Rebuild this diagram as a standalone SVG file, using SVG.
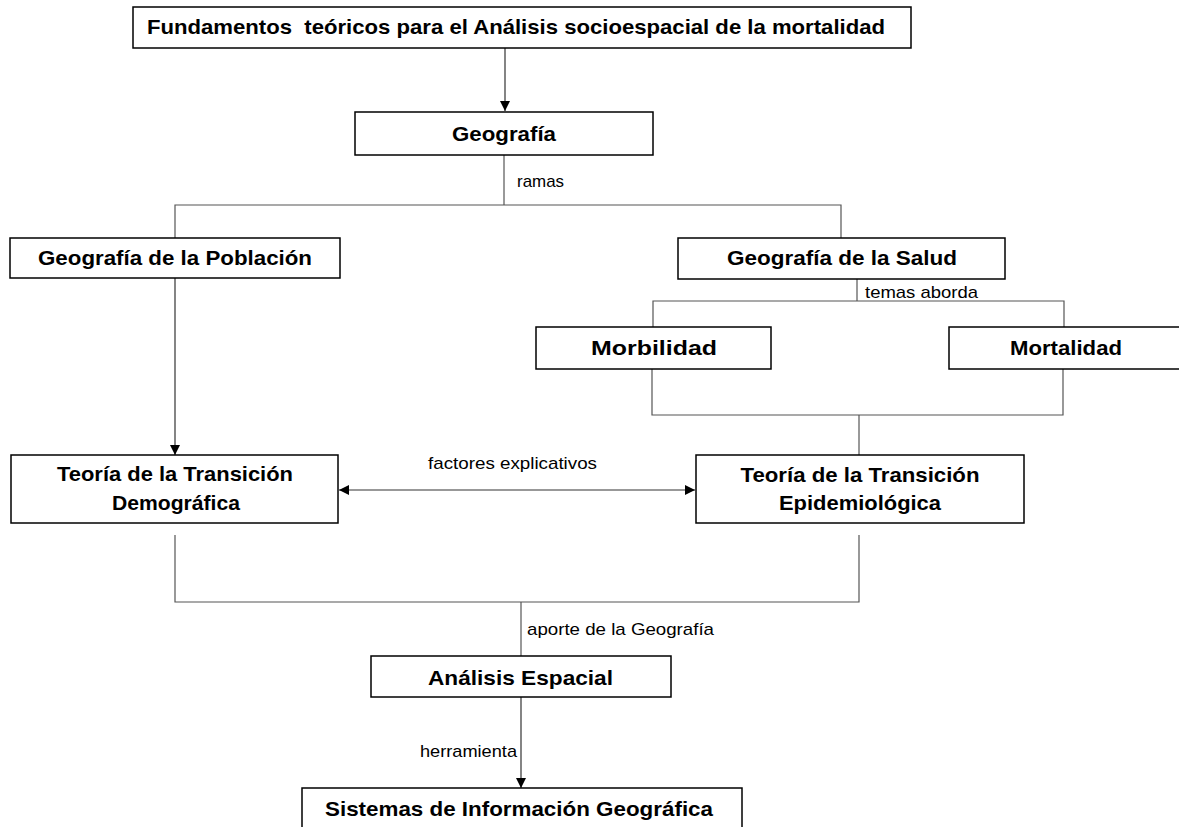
<svg xmlns="http://www.w3.org/2000/svg" width="1179" height="827" viewBox="0 0 1179 827">
  <style>
    .box { fill: #ffffff; stroke: #000000; stroke-width: 1.5; }
    .t { font-family: "Liberation Sans", Arial, sans-serif; font-weight: bold; font-size: 21px; fill: #000000; text-anchor: middle; }
    .lbl { font-family: "Liberation Sans", Arial, sans-serif; font-size: 17px; fill: #000000; }
    .ln { fill: none; stroke: #555555; stroke-width: 1.2; }
    .arr { fill: none; stroke: #333333; stroke-width: 1.2; }
  </style>
  <defs>
    <marker id="head" viewBox="0 0 10 10" refX="10" refY="5" markerWidth="10" markerHeight="10" markerUnits="userSpaceOnUse" orient="auto-start-reverse">
      <path d="M0,0 L10,5 L0,10 Z" fill="#000000"/>
    </marker>
  </defs>
  <rect width="1179" height="827" fill="#ffffff"/>

  <!-- connectors -->
  <g id="connectors">
    <line class="arr" x1="505" y1="48" x2="505" y2="111" marker-end="url(#head)"/>
    <polyline class="ln" points="504,155 504,205"/>
    <polyline class="ln" points="175,238 175,205 841,205 841,238"/>
    <text class="lbl" x="517" y="187" textLength="47" lengthAdjust="spacingAndGlyphs">ramas</text>

    <polyline class="ln" points="857,279 857,301"/>
    <polyline class="ln" points="653,327 653,301 1064,301 1064,327"/>
    <text class="lbl" x="865" y="298" textLength="113" lengthAdjust="spacingAndGlyphs">temas aborda</text>

    <polyline class="ln" points="652,369 652,415 1063,415 1063,369"/>
    <polyline class="ln" points="859,415 859,455"/>

    <line class="arr" x1="175" y1="278" x2="175" y2="455" marker-end="url(#head)"/>

    <line class="arr" x1="339" y1="490" x2="695" y2="490" marker-start="url(#head)" marker-end="url(#head)"/>
    <text class="lbl" x="428" y="469" textLength="169" lengthAdjust="spacingAndGlyphs">factores explicativos</text>

    <polyline class="ln" points="175,535 175,602 859,602 859,535"/>
    <polyline class="ln" points="521,602 521,656"/>
    <text class="lbl" x="527" y="635" textLength="187" lengthAdjust="spacingAndGlyphs">aporte de la Geografía</text>

    <line class="arr" x1="521" y1="697" x2="521" y2="788" marker-end="url(#head)"/>
    <text class="lbl" x="420" y="757" textLength="97" lengthAdjust="spacingAndGlyphs">herramienta</text>
  </g>

  <!-- nodes -->
  <g id="fundamentos">
    <rect class="box" x="133" y="7" width="778" height="41"/>
    <text class="t" x="516" y="34" textLength="738" lengthAdjust="spacingAndGlyphs" xml:space="preserve">Fundamentos  teóricos para el Análisis socioespacial de la mortalidad</text>
  </g>
  <g id="geografia">
    <rect class="box" x="355" y="112" width="298" height="43"/>
    <text class="t" x="504" y="141" textLength="104" lengthAdjust="spacingAndGlyphs">Geografía</text>
  </g>
  <g id="geo-poblacion">
    <rect class="box" x="10" y="238" width="330" height="40"/>
    <text class="t" x="175" y="265" textLength="274" lengthAdjust="spacingAndGlyphs">Geografía de la Población</text>
  </g>
  <g id="geo-salud">
    <rect class="box" x="678" y="238" width="327" height="41"/>
    <text class="t" x="842" y="265" textLength="230" lengthAdjust="spacingAndGlyphs">Geografía de la Salud</text>
  </g>
  <g id="morbilidad">
    <rect class="box" x="536" y="327" width="235" height="42"/>
    <text class="t" x="654" y="355" textLength="126" lengthAdjust="spacingAndGlyphs">Morbilidad</text>
  </g>
  <g id="mortalidad">
    <rect class="box" x="949" y="327" width="240" height="42"/>
    <text class="t" x="1066" y="355" textLength="112" lengthAdjust="spacingAndGlyphs">Mortalidad</text>
  </g>
  <g id="transicion-demografica">
    <rect class="box" x="11" y="455" width="327" height="68"/>
    <text class="t" x="175" y="481" textLength="236" lengthAdjust="spacingAndGlyphs">Teoría de la Transición</text>
    <text class="t" x="176" y="510" textLength="128" lengthAdjust="spacingAndGlyphs">Demográfica</text>
  </g>
  <g id="transicion-epidemiologica">
    <rect class="box" x="696" y="455" width="328" height="68"/>
    <text class="t" x="860" y="482" textLength="239" lengthAdjust="spacingAndGlyphs">Teoría de la Transición</text>
    <text class="t" x="860" y="510" textLength="162" lengthAdjust="spacingAndGlyphs">Epidemiológica</text>
  </g>
  <g id="analisis-espacial">
    <rect class="box" x="371" y="656" width="300" height="41"/>
    <text class="t" x="520.5" y="685" textLength="185" lengthAdjust="spacingAndGlyphs">Análisis Espacial</text>
  </g>
  <g id="sig">
    <rect class="box" x="302" y="788" width="440" height="50"/>
    <text class="t" x="519" y="816" textLength="388" lengthAdjust="spacingAndGlyphs">Sistemas de Información Geográfica</text>
  </g>
</svg>
